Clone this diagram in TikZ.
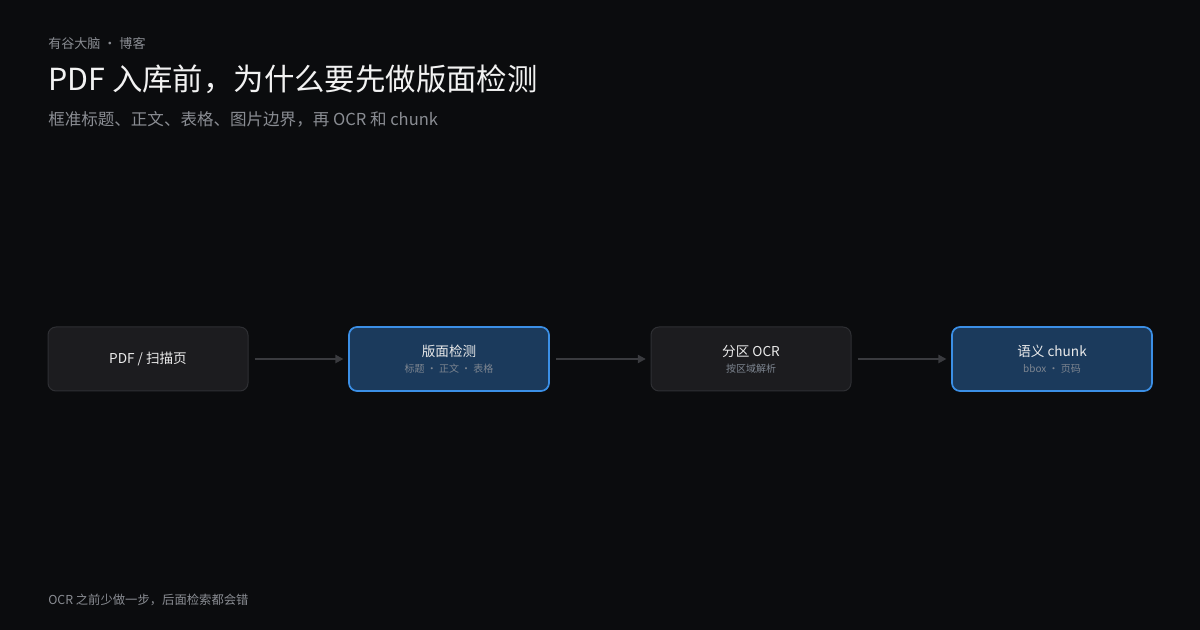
\documentclass[tikz,border=0pt]{standalone}
\usepackage{fontspec}
\setmainfont{Noto Sans CJK SC}
\usetikzlibrary{arrows.meta}
\definecolor{bg}{HTML}{0B0C0E}
\definecolor{boxfill}{HTML}{1C1C1F}
\definecolor{boxline}{HTML}{2E2F33}
\definecolor{bluefill}{HTML}{1B3A5C}
\definecolor{blueline}{HTML}{3B8FE6}
\definecolor{grey}{HTML}{8A8D93}
\definecolor{subgrey}{HTML}{7D8590}
\definecolor{arrowc}{HTML}{3A3B3F}
\begin{document}
\begin{tikzpicture}[x=0.75pt,y=-0.75pt,
  lbl/.style={anchor=west,inner sep=0pt},
  box/.style={draw=boxline,fill=boxfill,rounded corners=6pt,line width=0.75pt,minimum width=150pt,minimum height=48pt,inner sep=0pt,align=center},
  hbox/.style={box,draw=blueline,fill=bluefill,line width=1.3pt},
  main/.style={text=white!92!black,font=\fontsize{10.2}{12}\selectfont},
  sub/.style={text=subgrey,font=\fontsize{7.5}{9}\selectfont},
  arr/.style={draw=arrowc,line width=1.5pt,-{Triangle[length=6pt,width=6pt]}}]
\fill[bg] (0,0) rectangle (1200,630);
\useasboundingbox (0,0) rectangle (1200,630);
\node[lbl,text=grey,font=\fontsize{9.8}{12}\selectfont] (hdr) at (48,44) {有谷大脑 · 博客};
\node[lbl,text=white!95!black,font=\fontsize{22.8}{28}\selectfont] (title) at (48,79) {PDF 入库前，为什么要先做版面检测};
\node[lbl,text=grey,font=\fontsize{12.4}{15}\selectfont] (subt) at (48,119) {框准标题、正文、表格、图片边界，再 OCR 和 chunk};
\node[lbl,text=grey,font=\fontsize{9.25}{12}\selectfont] (foot) at (48,600) {OCR 之前少做一步，后面检索都会错};
\node[box] (a) at (148,359) {};
\node[main] at (148,359) {PDF / 扫描页};
\node[hbox] (b) at (449,359) {};
\node[main] at (449,351) {版面检测};
\node[sub] at (449,369) {标题 · 正文 · 表格};
\node[box] (c) at (751,359) {};
\node[main] at (751,351) {分区 OCR};
\node[sub] at (751,369) {按区域解析};
\node[hbox] (d) at (1052,359) {};
\node[main] at (1052,351) {语义 chunk};
\node[sub] at (1052,369) {bbox · 页码};
\draw[arr] ([xshift=4.5pt]a.east) -- ([xshift=-3.5pt]b.west);
\draw[arr] ([xshift=4.5pt]b.east) -- ([xshift=-3.5pt]c.west);
\draw[arr] ([xshift=4.5pt]c.east) -- ([xshift=-3.5pt]d.west);
\end{tikzpicture}
\end{document}
